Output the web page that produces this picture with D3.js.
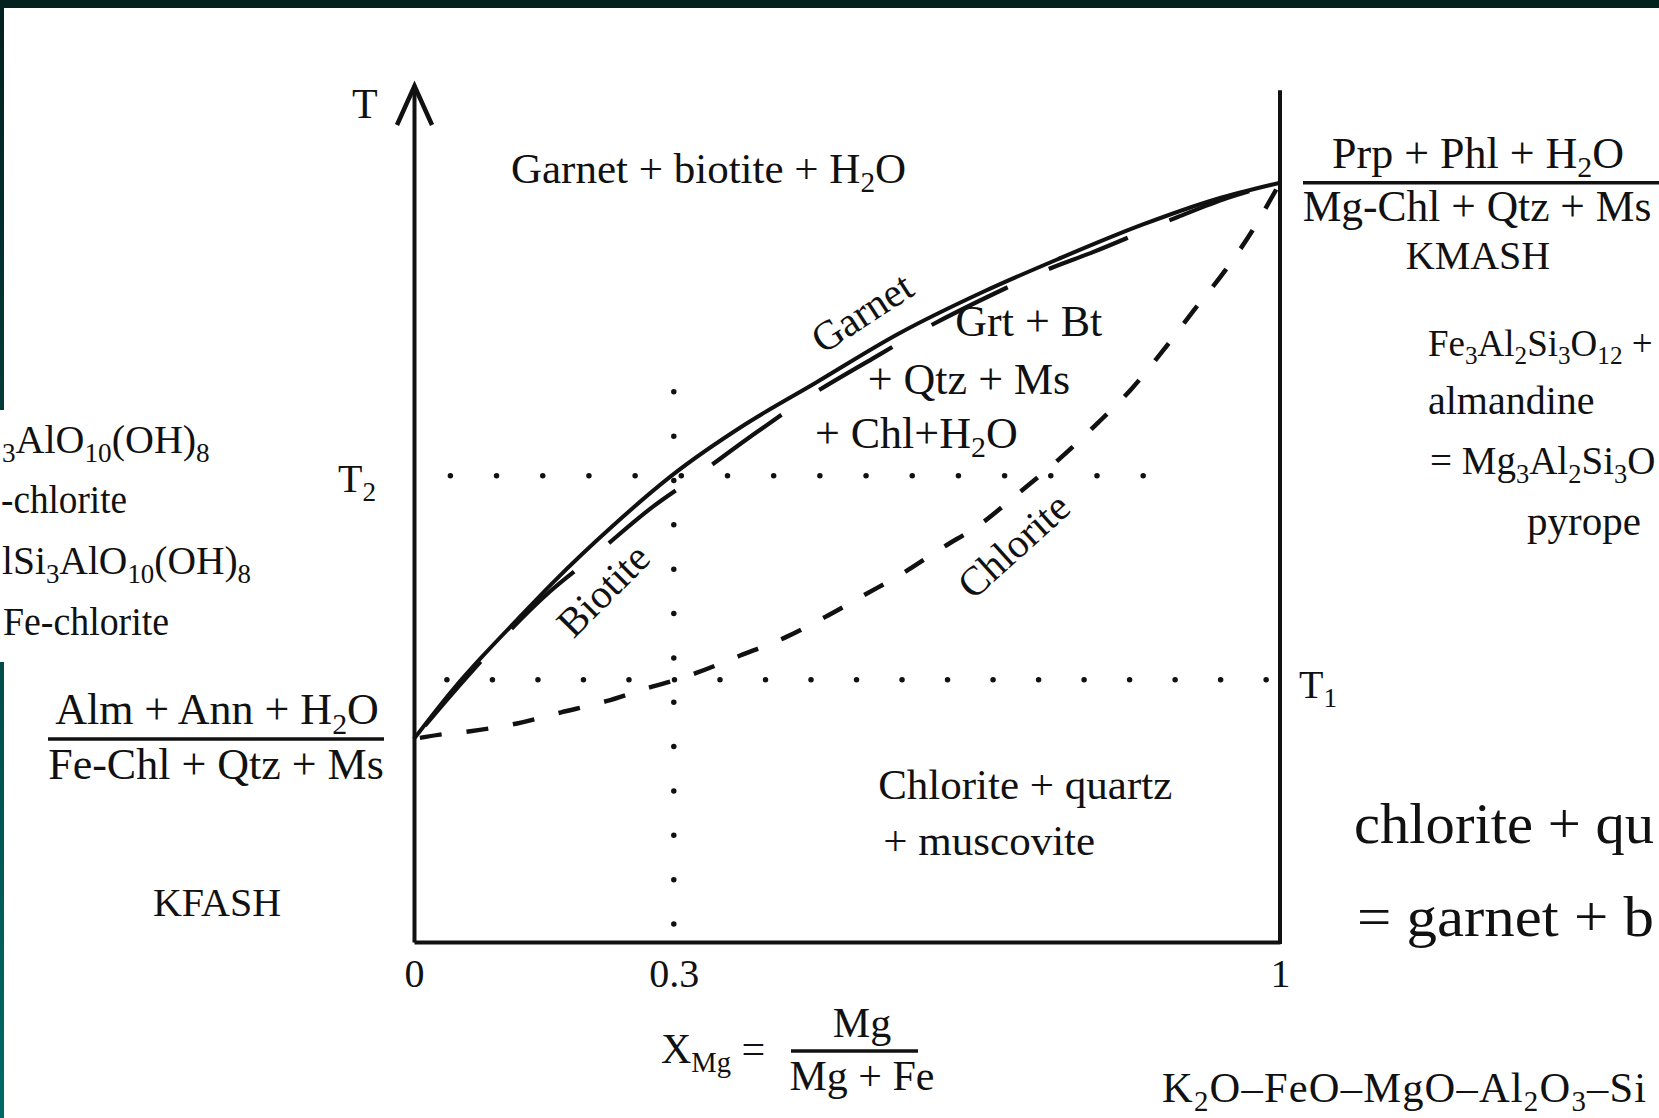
<!DOCTYPE html>
<html>
<head>
<meta charset="utf-8">
<script src="https://d3js.org/d3.v7.min.js"></script>
<style>
  html, body { margin: 0; padding: 0; background: #fff; overflow: hidden; }
  svg { display: block; }
  text { font-family: "Liberation Serif", "Times New Roman", serif; fill: #111; }
</style>
</head>
<body>
<div id="my_dataviz"></div>
<script>
// #DATA  (x = X_Mg, T = relative temperature 0..100)
var garnetX = [0, 0.047, 0.076, 0.12, 0.161, 0.23, 0.296, 0.384, 0.463, 0.56, 0.658, 0.744, 0.841, 0.927, 1]
var garnetT = [23.7, 29.7, 33.0, 37.7, 42.0, 48.6, 54.3, 60.5, 65.2, 71.0, 75.9, 79.7, 83.7, 86.7, 88.6]

var biotiteX = [0, 0.047, 0.097, 0.157, 0.207, 0.276, 0.321, 0.396, 0.446, 0.53, 0.576, 0.671, 0.725, 0.784, 0.882, 0.939, 1]
var biotiteT = [23.7, 29.3, 34.9, 40.9, 45.0, 50.8, 54.0, 59.5, 63.0, 68.1, 70.8, 75.7, 78.2, 80.5, 84.6, 86.8, 88.6]

var chloriteX = [0, 0.03, 0.065, 0.119, 0.17, 0.222, 0.275, 0.3, 0.326, 0.376, 0.43, 0.478, 0.522, 0.564, 0.61, 0.656, 0.696, 0.74, 0.79, 0.829, 0.868, 0.902, 0.937, 0.968, 1]
var chloriteT = [23.7, 24.2, 24.6, 25.5, 26.8, 28.1, 29.8, 30.5, 31.4, 33.4, 35.6, 38.1, 40.6, 43.0, 46.0, 48.9, 52.2, 55.9, 60.6, 64.6, 69.4, 73.9, 78.4, 83.0, 88.6]

// isotherms T1, T2 and the X_Mg = 0.3 section (dotted)
var isoT = [30.6, 54.4]
var isoXfrom = [0.038, 0.042]
var isoXto = [0.984, 0.842]
var isoDots = [18, 15]
var sectionX = 0.3
var sectionT = [2.1, 64.2]
var sectionDots = 12

var xTicks = [0, 0.3, 1]
var xTickLabels = ["0", "0.3", "1"]

// set the dimensions of the page
var width = 1659
    height = 1118

var svg = d3.select("#my_dataviz")
  .append("svg")
    .attr("width", width)
    .attr("height", height)

// slide background + dark frame on top / left
var grad = svg.append("defs").append("linearGradient")
    .attr("id", "frameGrad")
    .attr("x1", 0).attr("y1", 0).attr("x2", 0).attr("y2", 1)
grad.append("stop").attr("offset", "0%").attr("stop-color", "#02201f")
grad.append("stop").attr("offset", "100%").attr("stop-color", "#006b66")

svg.append("rect").attr("width", width).attr("height", height).attr("fill", "#fff")
svg.append("rect").attr("x", 0).attr("y", 0).attr("width", 4).attr("height", height).attr("fill", "url(#frameGrad)")
svg.append("rect").attr("x", 0).attr("y", 0).attr("width", width).attr("height", 8).attr("fill", "#02211f")
svg.append("rect").attr("x", 0).attr("y", 410).attr("width", 4).attr("height", 252).attr("fill", "#fff")

// scales
var x = d3.scaleLinear().domain([0, 1]).range([414, 1280])
var y = d3.scaleLinear().domain([0, 100]).range([942, 85])

// text helper: "H_{2}O" -> tspans with subscripts
// opt.len stretches a plain text to an exact width, opt.ls = letter spacing
function richText(g, str, px, py, size, anchor, opt) {
  opt = opt || {}
  var t = g.append("text")
    .attr("x", px)
    .attr("y", py)
    .attr("font-size", size)
    .attr("text-anchor", anchor || "start")
  if (opt.ls) t.attr("letter-spacing", opt.ls)
  if (opt.len) {
    t.attr("textLength", opt.len).attr("lengthAdjust", "spacingAndGlyphs").text(str)
    return t
  }
  var parts = str.split(/(_\{[^}]*\})/).filter(function(s) { return s.length })
  var down = false
  parts.forEach(function(p) {
    if (p.indexOf("_{") === 0) {
      t.append("tspan").attr("font-size", size * 0.68).attr("dy", down ? 0 : size * 0.22).text(p.slice(2, -1))
      down = true
    } else {
      t.append("tspan").attr("dy", down ? -size * 0.22 : 0).text(p)
      down = false
    }
  })
  return t
}

// dotted guide lines: n gaps between n + 1 round dots
function dotted(x1, y1, x2, y2, n) {
  var dx = x2 - x1, dy = y2 - y1
  var len = Math.sqrt(dx * dx + dy * dy)
  svg.append("line")
    .attr("x1", x1).attr("y1", y1)
    .attr("x2", x2 + dx / len).attr("y2", y2 + dy / len)   // 1px extra so the last dot is kept
    .attr("stroke", "#111")
    .attr("stroke-width", 5.5)
    .attr("stroke-linecap", "round")
    .attr("stroke-dasharray", "0 " + (len / n))
}
isoT.forEach(function(t, i) {
  dotted(x(isoXfrom[i]), y(t), x(isoXto[i]), y(t), isoDots[i])
})
dotted(x(sectionX), y(sectionT[0]), x(sectionX), y(sectionT[1]), sectionDots)

// axes
var axisB = svg.append("g")
  .attr("transform", "translate(0," + y(0) + ")")
  .call(d3.axisBottom(x)
    .tickValues(xTicks)
    .tickFormat(function(d, i) { return xTickLabels[i] })
    .tickSize(0)
    .tickSizeOuter(0)
    .tickPadding(17))
axisB.select(".domain").attr("stroke", "#111").attr("stroke-width", 4)
axisB.selectAll("text").attr("font-size", 40).attr("fill", "#111")

var axisL = svg.append("g")
  .attr("transform", "translate(" + x(0) + ",0)")
  .call(d3.axisLeft(y).tickValues([]).tickSizeOuter(0))
axisL.select(".domain").attr("stroke", "#111").attr("stroke-width", 4)

// arrow head on T axis
svg.append("path")
  .attr("d", "M" + (x(0) - 17) + "," + (y(100) + 40) + "L" + (x(0) + 0.5) + "," + (y(100) + 1) + "L" + (x(0) + 18) + "," + (y(100) + 40))
  .attr("fill", "none")
  .attr("stroke", "#111")
  .attr("stroke-width", 4.5)

// right border at X_Mg = 1
svg.append("line")
  .attr("x1", x(1)).attr("x2", x(1))
  .attr("y1", y(0) + 2).attr("y2", y(99.4))
  .attr("stroke", "#111")
  .attr("stroke-width", 4)

// reaction curves
var line = d3.line()
  .x(function(d) { return x(d[0]) })
  .y(function(d) { return y(d[1]) })
  .curve(d3.curveMonotoneX)

svg.append("path")
  .datum(d3.zip(chloriteX, chloriteT))
  .attr("d", line)
  .attr("fill", "none")
  .attr("stroke", "#111")
  .attr("stroke-width", 4.5)
  .attr("stroke-dasharray", "22 25")
  .attr("stroke-dashoffset", -6)

svg.append("path")
  .datum(d3.zip(biotiteX, biotiteT))
  .attr("d", line)
  .attr("fill", "none")
  .attr("stroke", "#111")
  .attr("stroke-width", 4.2)
  .attr("stroke-dasharray", "85 45")
  .attr("stroke-dashoffset", 113)

svg.append("path")
  .datum(d3.zip(garnetX, garnetT))
  .attr("d", line)
  .attr("fill", "none")
  .attr("stroke", "#111")
  .attr("stroke-width", 4)

// labels inside the diagram
var lab = svg.append("g")
richText(lab, "Garnet + biotite + H_{2}O", x(0.112), y(88.6), 43)
richText(lab, "Grt + Bt", x(0.625), y(70.7), 44)
richText(lab, "+ Qtz + Ms", x(0.524), y(64.0), 44)
richText(lab, "+ Chl+H_{2}O", x(0.463), y(57.7), 44)
richText(lab, "Chlorite + quartz", x(0.536), y(16.7), 43)
richText(lab, "+ muscovite", x(0.542), y(10.2), 43)

var curveNames = ["Garnet", "Biotite", "Chlorite"]
var curveLabX = [0.517, 0.218, 0.692]
var curveLabT = [73.5, 41.1, 46.3]
var curveLabA = [-33, -45, -42]
curveNames.forEach(function(n, i) {
  lab.append("text")
    .attr("transform", "translate(" + x(curveLabX[i]) + "," + y(curveLabT[i]) + ") rotate(" + curveLabA[i] + ")")
    .attr("text-anchor", "middle")
    .attr("dy", "0.35em")
    .attr("font-size", 41)
    .text(n)
})

// axis labels
richText(lab, "T", x(0) - 62, y(100) + 33, 42)
richText(lab, "T_{2}", x(0) - 76, y(isoT[1]) + 16, 40)
richText(lab, "T_{1}", x(1) + 19, y(isoT[0]) + 18, 40)
richText(lab, "X_{Mg} =", 661, 1063, 42)
richText(lab, "Mg", 862, 1037, 42, "middle")
richText(lab, "Mg + Fe", 862, 1090, 42, "middle")
lab.append("line")
  .attr("x1", 791).attr("x2", 918)
  .attr("y1", 1051).attr("y2", 1051)
  .attr("stroke", "#111").attr("stroke-width", 3.5)

// end-member reactions (KFASH left, KMASH right)
var yL = y(garnetT[0])
var yR = y(garnetT[garnetT.length - 1])
richText(lab, "Alm + Ann + H_{2}O", 217, yL - 15, 44, "middle")
lab.append("line").attr("x1", 48).attr("x2", 384).attr("y1", yL).attr("y2", yL).attr("stroke", "#111").attr("stroke-width", 3.5)
richText(lab, "Fe-Chl + Qtz + Ms", 216, yL + 40, 44, "middle")
richText(lab, "KFASH", 217, 916, 40, "middle")

richText(lab, "Prp + Phl + H_{2}O", 1478, yR - 15, 44, "middle")
lab.append("line").attr("x1", 1303).attr("x2", width).attr("y1", yR).attr("y2", yR).attr("stroke", "#111").attr("stroke-width", 3.5)
richText(lab, "Mg-Chl + Qtz + Ms", 1477, yR + 38, 43.5, "middle")
richText(lab, "KMASH", 1478, yR + 86, 40, "middle")

// slide text running to the page edges
richText(lab, "_{3}AlO_{10}(OH)_{8}", 2, 453, 40)
richText(lab, "-chlorite", 1, 513, 41, "start", { len: 126 })
richText(lab, "lSi_{3}AlO_{10}(OH)_{8}", 2, 574, 39.5)
richText(lab, "Fe-chlorite", 3, 635, 41, "start", { len: 166 })

richText(lab, "Fe_{3}Al_{2}Si_{3}O_{12} +", 1428, 356, 37)
richText(lab, "almandine", 1428, 414, 40)
richText(lab, "= Mg_{3}Al_{2}Si_{3}O", 1430, 474, 39)
richText(lab, "pyrope", 1527, 535, 41)

richText(lab, "chlorite + qu", 1354, 843, 58, "start", { len: 300 })
richText(lab, "= garnet + b", 1357, 936, 58, "start", { len: 297 })
richText(lab, "K_{2}O\u2013FeO\u2013MgO\u2013Al_{2}O_{3}\u2013Si", 1162, 1102, 42.5, "start", { ls: 1.2 })
</script>
</body>
</html>
